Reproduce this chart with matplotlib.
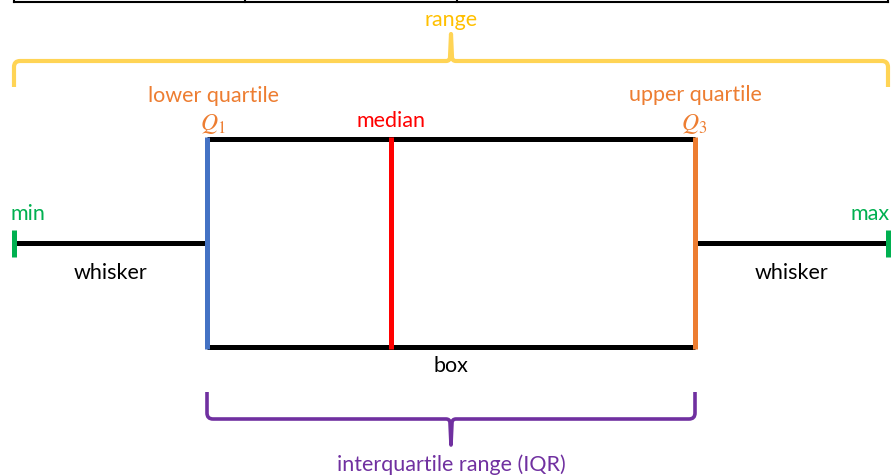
import matplotlib.pyplot as plt
from matplotlib.path import Path
from matplotlib.patches import PathPatch

# five-number summary (drawn on a pixel-like scale)
stat_names = ["min", "Q1", "median", "Q3", "max"]
stat_values = [14, 207, 391, 695, 888]
table_cols = [14, 245, 457, 888]

vmin, q1, med, q3, vmax = stat_values

plt.rcParams['font.family'] = ['Lato', 'DejaVu Sans']
plt.rcParams['mathtext.fontset'] = 'stix'

fig = plt.figure(figsize=(8.91, 4.77), dpi=100)
ax = fig.add_axes([0, 0, 1, 1])
ax.set_xlim(0, 891)
ax.set_ylim(477, 0)
ax.axis('off')

# leftover table border at the top
ax.plot([table_cols[0], table_cols[-1]], [2.5, 2.5], color='black', lw=1.5)
for c in table_cols:
    ax.plot([c, c], [0, 2.5], color='black', lw=1.5)

box_top, box_bot, mid_y = 140, 348, 244
lw = 3.6

# whiskers
ax.plot([vmin, q1], [mid_y, mid_y], color='black', lw=lw, solid_capstyle='butt')
ax.plot([q3, vmax], [mid_y, mid_y], color='black', lw=lw, solid_capstyle='butt')
# box edges
ax.plot([q1, q3], [box_top, box_top], color='black', lw=lw, solid_capstyle='butt')
ax.plot([q1, q3], [box_bot, box_bot], color='black', lw=lw, solid_capstyle='butt')
ax.plot([q1, q1], [box_top - 2, box_bot + 2], color='#4472C4', lw=lw, solid_capstyle='butt')
ax.plot([q3, q3], [box_top - 2, box_bot + 2], color='#ED7D31', lw=lw, solid_capstyle='butt')
ax.plot([med, med], [box_top - 2, box_bot + 2], color='#FF0000', lw=lw, solid_capstyle='butt')
# min / max ticks
ax.plot([vmin, vmin], [231, 258], color='#00B050', lw=lw, solid_capstyle='butt')
ax.plot([vmax, vmax], [231, 258], color='#00B050', lw=lw, solid_capstyle='butt')


def brace(x0, x1, y_end, y_bar, y_tip, color, width):
    xm = (x0 + x1) / 2
    d = 1 if y_bar > y_end else -1  # direction toward the bar
    r = 6
    verts = [(x0, y_end), (x0, y_bar - d * r), (x0, y_bar), (x0 + r, y_bar),
             (xm - 5, y_bar), (xm - 1, y_bar), (xm - 1, y_bar + d * 4), (xm, y_tip),
             (xm + 1, y_bar + d * 4), (xm + 1, y_bar), (xm + 5, y_bar),
             (x1 - r, y_bar), (x1, y_bar), (x1, y_bar - d * r), (x1, y_end)]
    codes = [Path.MOVETO, Path.LINETO, Path.CURVE3, Path.CURVE3,
             Path.LINETO, Path.CURVE3, Path.CURVE3, Path.LINETO,
             Path.LINETO, Path.CURVE3, Path.CURVE3,
             Path.LINETO, Path.CURVE3, Path.CURVE3, Path.LINETO]
    ax.add_patch(PathPatch(Path(verts, codes), fill=False, ec=color, lw=width,
                           capstyle='butt', joinstyle='round'))


brace(vmin, vmax, 88, 62, 35, '#FFD455', 3.0)
brace(q1, q3, 393, 420, 446, '#7030A0', 2.6)

fs = 15.5
mfs = 17
ax.text((vmin + vmax) / 2, 20, "range", color='#FFC000', fontsize=fs, ha='center', va='center')
ax.text(q1 + 7, 96, "lower quartile", color='#ED7D31', fontsize=fs, ha='center', va='center')
ax.text(q1 + 6, 124, "$Q_1$", color='#ED7D31', fontsize=mfs, ha='center', va='center')
ax.text(med, 121, "median", color='#FF0000', fontsize=fs, ha='center', va='center')
ax.text(q3, 95, "upper quartile", color='#ED7D31', fontsize=fs, ha='center', va='center')
ax.text(q3 - 1, 124, "$Q_3$", color='#ED7D31', fontsize=mfs, ha='center', va='center')
ax.text(10, 214, "min", color='#00B050', fontsize=fs, ha='left', va='center')
ax.text(890, 214, "max", color='#00B050', fontsize=fs, ha='right', va='center')
ax.text(111, 273, "whisker", color='black', fontsize=fs, ha='center', va='center')
ax.text(792, 273, "whisker", color='black', fontsize=fs, ha='center', va='center')
ax.text((q1 + q3) / 2, 366, "box", color='black', fontsize=fs, ha='center', va='center')
ax.text((q1 + q3) / 2, 465, "interquartile range (IQR)", color='#7030A0', fontsize=fs,
        ha='center', va='center')

fig.savefig("out.png", dpi=100)
